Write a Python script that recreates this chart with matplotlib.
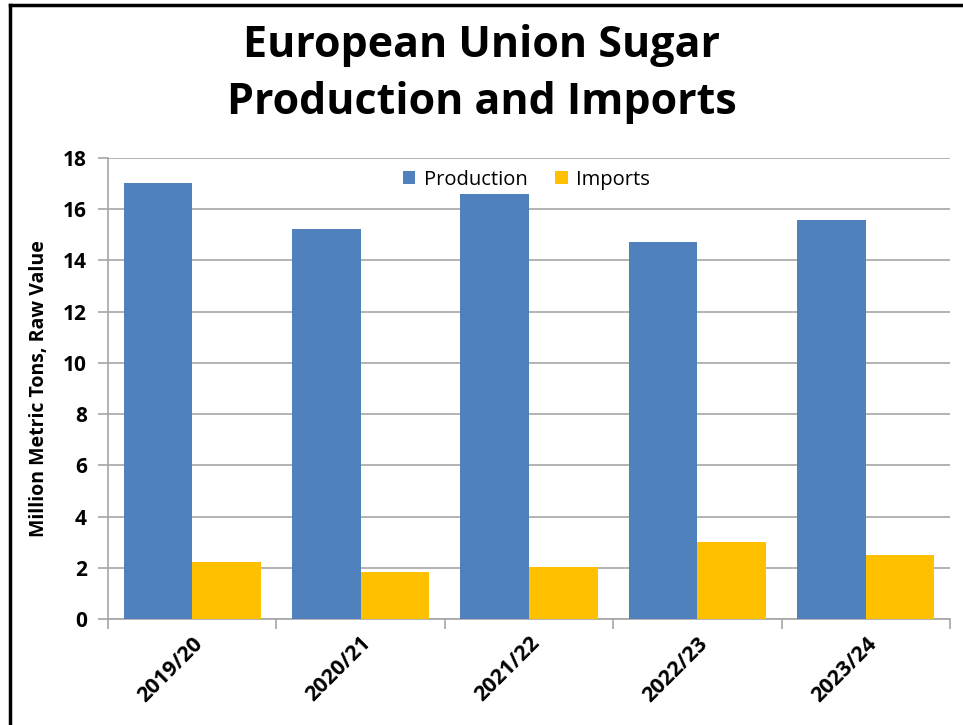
import matplotlib.pyplot as plt
import numpy as np
from matplotlib.lines import Line2D

plt.rcParams['font.family'] = ['Open Sans', 'DejaVu Sans']

years = ['2019/20', '2020/21', '2021/22', '2022/23', '2023/24']
production = [17.02, 15.23, 16.6, 14.74, 15.58]
imports = [2.23, 1.82, 2.05, 3.0, 2.5]

fig = plt.figure(figsize=(9.63, 7.25), dpi=100)
ax = fig.add_axes([0.1121, 0.1462, 0.8744, 0.6358])

x = np.arange(len(years))
w = 0.407
ax.bar(x - w / 2, production, w, color='#4F81BD', label='Production', zorder=3)
ax.bar(x + w / 2, imports, w, color='#FFC000', label='Imports', zorder=3)

ax.set_xlim(-0.5, len(years) - 0.5)
ax.set_ylim(0, 18)
ax.set_yticks(range(0, 19, 2))
ax.yaxis.grid(True, color='#A6A6A6', lw=1.2, zorder=0)

ax.set_xticks(x)
ax.set_xticklabels(years, rotation=45, ha='right', rotation_mode='anchor',
                   fontsize=15.5, fontweight='bold')
ax.set_xticks(np.arange(-0.5, len(years)), minor=True)
ax.tick_params(axis='x', which='major', length=0, pad=10)
ax.tick_params(axis='x', which='minor', length=7, color='#A6A6A6', width=1.2)
ax.tick_params(axis='y', length=7, color='#A6A6A6', width=1.2, labelsize=15, pad=8)
for lab in ax.get_yticklabels():
    lab.set_fontweight('bold')

for s in ['top', 'right']:
    ax.spines[s].set_visible(False)
for s in ['left', 'bottom']:
    ax.spines[s].set_color('#A6A6A6')
    ax.spines[s].set_linewidth(1.2)

ax.set_ylabel('Million Metric Tons, Raw Value', fontsize=14, fontweight='bold', labelpad=10)

ax.legend(loc='upper center', bbox_to_anchor=(0.497, 1.014), ncol=2, frameon=False,
          fontsize=14.5, handlelength=0.6, handleheight=0.6, columnspacing=1.4,
          handletextpad=0.4)

fig.text(0.5, 0.898, 'European Union Sugar\nProduction and Imports', ha='center', va='center',
         fontsize=31, fontweight='bold', linespacing=1.4)

# frame lines from the slide
fig.add_artist(Line2D([0.0104, 0.0104], [0, 0.993], color='black', lw=2.5))
fig.add_artist(Line2D([0.0104, 1.0], [0.993, 0.993], color='black', lw=2.5))

fig.savefig('out.png', dpi=100)
